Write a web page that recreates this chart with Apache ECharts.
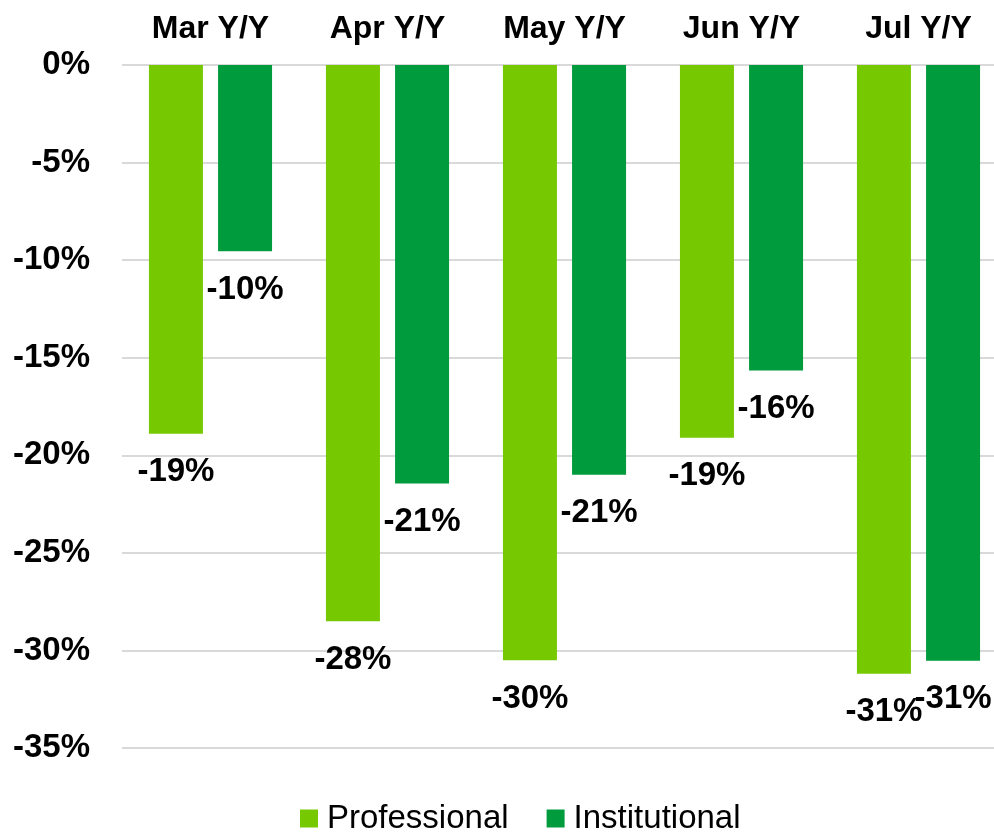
<!DOCTYPE html>
<html>
<head>
<meta charset="utf-8">
<script src="https://cdn.jsdelivr.net/npm/echarts@6/dist/echarts.min.js"></script>
<style>
  html, body { margin: 0; padding: 0; background: #ffffff; overflow: hidden; }
  /* plot area runs a little past the right edge of the window, as in the original */
  #chart { width: 1007px; height: 834px; }
</style>
</head>
<body>
<div id="chart"></div>
<script>
// categories and values (percent, year over year)
const categories = ["Mar Y/Y", "Apr Y/Y", "May Y/Y", "Jun Y/Y", "Jul Y/Y"];
const professional = [-18.9, -28.5, -30.5, -19.1, -31.2];
const institutional = [-9.55, -21.45, -21.0, -15.65, -30.53];
const seriesNames = ["Professional", "Institutional"];

const FONT = "Liberation Sans, Arial, sans-serif";

const chart = echarts.init(document.getElementById("chart"));

const barLabel = {
  show: true,
  position: "bottom",
  distance: 22,
  fontFamily: FONT,
  fontSize: 33,
  fontWeight: "bold",
  color: "#000000",
  formatter: (p) => Math.round(p.value) + "%",
};

const option = {
  backgroundColor: "#ffffff",
  animation: false,
  grid: { left: 122, right: 0, top: 65, bottom: 86 },
  legend: {
    data: seriesNames,
    left: 295,
    top: 797,
    icon: "rect",
    itemWidth: 18,
    itemHeight: 18,
    itemGap: 38,
    textStyle: {
      fontFamily: FONT,
      fontSize: 33,
      color: "#000000",
      padding: [0, 0, 0, 4],
    },
  },
  xAxis: {
    type: "category",
    position: "top",
    data: categories,
    axisLine: { show: false },
    axisTick: { show: false },
    axisLabel: {
      margin: 20,
      fontFamily: FONT,
      fontSize: 32,
      fontWeight: "bold",
      color: "#000000",
    },
  },
  yAxis: {
    type: "value",
    min: -35,
    max: 0,
    interval: 5,
    axisLine: { show: false },
    axisTick: { show: false },
    splitLine: { lineStyle: { color: "#d9d9d9", width: 2 } },
    axisLabel: {
      margin: 32,
      formatter: "{value}%",
      fontFamily: FONT,
      fontSize: 33,
      fontWeight: "bold",
      color: "#000000",
      padding: [4, 0, 0, 0],
    },
  },
  series: [
    {
      name: seriesNames[0],
      type: "bar",
      data: professional,
      barWidth: 54,
      barGap: "28%",
      itemStyle: { color: "#76c800" },
      label: barLabel,
    },
    {
      name: seriesNames[1],
      type: "bar",
      data: institutional,
      barWidth: 54,
      barGap: "28%",
      itemStyle: { color: "#009b3c" },
      label: barLabel,
    },
  ],
};

chart.setOption(option);
</script>
</body>
</html>
